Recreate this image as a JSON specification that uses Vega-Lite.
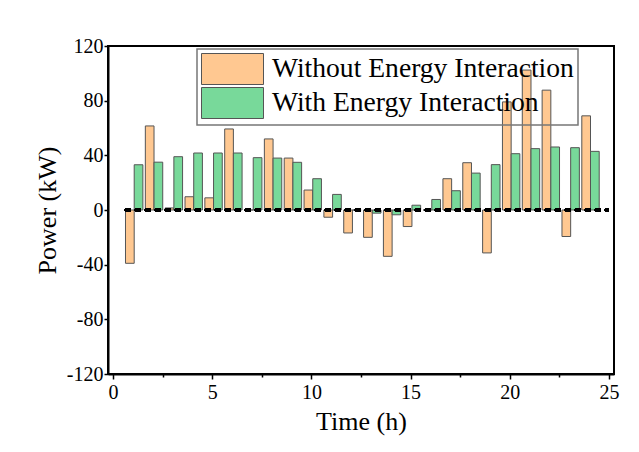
{
  "$schema": "https://vega.github.io/schema/vega-lite/v6.json",
  "width": 506,
  "height": 328,
  "autosize": "none",
  "padding": {"left": 108, "top": 46, "right": 25, "bottom": 78},
  "background": "white",
  "config": {
    "font": "Liberation Serif",
    "view": {"stroke": "black", "strokeWidth": 2},
    "axis": {
      "labelFont": "Liberation Serif",
      "titleFont": "Liberation Serif",
      "labelColor": "black",
      "titleColor": "black",
      "titleFontWeight": "normal",
      "domainColor": "black",
      "domainWidth": 2,
      "tickColor": "black",
      "tickWidth": 1.5,
      "grid": false
    },
    "legend": {
      "labelFont": "Liberation Serif"
    }
  },
  "data": {
    "values": [
      {"hour": 1, "series": "Without Energy Interaction", "power": -39},
      {"hour": 2, "series": "Without Energy Interaction", "power": 61.5},
      {"hour": 3, "series": "Without Energy Interaction", "power": 1.5},
      {"hour": 4, "series": "Without Energy Interaction", "power": 9.7},
      {"hour": 5, "series": "Without Energy Interaction", "power": 8.9},
      {"hour": 6, "series": "Without Energy Interaction", "power": 59.3},
      {"hour": 7, "series": "Without Energy Interaction", "power": 0},
      {"hour": 8, "series": "Without Energy Interaction", "power": 52},
      {"hour": 9, "series": "Without Energy Interaction", "power": 38},
      {"hour": 10, "series": "Without Energy Interaction", "power": 14.6},
      {"hour": 11, "series": "Without Energy Interaction", "power": -5.3},
      {"hour": 12, "series": "Without Energy Interaction", "power": -16.8},
      {"hour": 13, "series": "Without Energy Interaction", "power": -20},
      {"hour": 14, "series": "Without Energy Interaction", "power": -33.9},
      {"hour": 15, "series": "Without Energy Interaction", "power": -12.1},
      {"hour": 16, "series": "Without Energy Interaction", "power": 0},
      {"hour": 17, "series": "Without Energy Interaction", "power": 22.9},
      {"hour": 18, "series": "Without Energy Interaction", "power": 34.6},
      {"hour": 19, "series": "Without Energy Interaction", "power": -31.4},
      {"hour": 20, "series": "Without Energy Interaction", "power": 79.1},
      {"hour": 21, "series": "Without Energy Interaction", "power": 102.4},
      {"hour": 22, "series": "Without Energy Interaction", "power": 87.7},
      {"hour": 23, "series": "Without Energy Interaction", "power": -19.4},
      {"hour": 24, "series": "Without Energy Interaction", "power": 68.9},
      {"hour": 1, "series": "With Energy Interaction", "power": 33.1},
      {"hour": 2, "series": "With Energy Interaction", "power": 35},
      {"hour": 3, "series": "With Energy Interaction", "power": 39},
      {"hour": 4, "series": "With Energy Interaction", "power": 41.7},
      {"hour": 5, "series": "With Energy Interaction", "power": 41.7},
      {"hour": 6, "series": "With Energy Interaction", "power": 41.7},
      {"hour": 7, "series": "With Energy Interaction", "power": 38.3},
      {"hour": 8, "series": "With Energy Interaction", "power": 38},
      {"hour": 9, "series": "With Energy Interaction", "power": 34.9},
      {"hour": 10, "series": "With Energy Interaction", "power": 22.9},
      {"hour": 11, "series": "With Energy Interaction", "power": 11.4},
      {"hour": 12, "series": "With Energy Interaction", "power": 0},
      {"hour": 13, "series": "With Energy Interaction", "power": -2.3},
      {"hour": 14, "series": "With Energy Interaction", "power": -3.5},
      {"hour": 15, "series": "With Energy Interaction", "power": 3.5},
      {"hour": 16, "series": "With Energy Interaction", "power": 7.7},
      {"hour": 17, "series": "With Energy Interaction", "power": 14.1},
      {"hour": 18, "series": "With Energy Interaction", "power": 27},
      {"hour": 19, "series": "With Energy Interaction", "power": 33.2},
      {"hour": 20, "series": "With Energy Interaction", "power": 41.2},
      {"hour": 21, "series": "With Energy Interaction", "power": 44.9},
      {"hour": 22, "series": "With Energy Interaction", "power": 46.1},
      {"hour": 23, "series": "With Energy Interaction", "power": 45.6},
      {"hour": 24, "series": "With Energy Interaction", "power": 42.9}
    ]
  },
  "resolve": {"axis": {"x": "independent"}},
  "layer": [
    {
      "transform": [{"filter": "datum.series === 'Without Energy Interaction'"}],
      "mark": {"type": "bar", "width": 8.7, "xOffset": -3, "stroke": "#555555", "strokeWidth": 1},
      "encoding": {
        "x": {
          "field": "hour", "type": "quantitative",
          "scale": {"domain": [0, 25], "nice": false, "zero": false},
          "axis": {
            "orient": "bottom",
            "values": [0, 5, 10, 15, 20, 25],
            "title": "Time (h)",
            "titleFontSize": 26,
            "titlePadding": 6,
            "labelFontSize": 20,
            "labelPadding": 3,
            "tickSize": 5,
            "format": "d",
            "labelFlush": false
          }
        },
        "y": {
          "field": "power", "type": "quantitative",
          "scale": {"domain": [-120, 120], "nice": false},
          "axis": {
            "values": [-120, -80, -40, 0, 40, 80, 120],
            "labelExpr": "replace(datum.label, '\u2212', '-')",
            "title": "Power (kW)",
            "titleFontSize": 26,
            "titlePadding": 6,
            "labelFontSize": 20,
            "labelPadding": 1,
            "tickSize": 4
          }
        },
        "color": {
          "field": "series", "type": "nominal",
          "scale": {
            "domain": ["Without Energy Interaction", "With Energy Interaction"],
            "range": ["#FFC891", "#78D99A"]
          },
          "legend": {
            "title": null,
            "orient": "none",
            "legendX": 89,
            "legendY": 3,
            "padding": 4,
            "strokeColor": "#777777",
            "symbolType": "M-1,-1H3V1H-1Z",
            "symbolSize": 961,
            "symbolStrokeColor": "#555555",
            "symbolStrokeWidth": 1,
            "symbolOpacity": 1,
            "labelFontSize": 27.6,
            "labelOffset": 39,
            "labelColor": "black",
            "rowPadding": -2,
            "labelLimit": 400,
            "encode": {"legend": {"update": {"strokeWidth": {"value": 1.5}}}}
          }
        }
      }
    },
    {
      "transform": [{"filter": "datum.series === 'With Energy Interaction'"}],
      "mark": {"type": "bar", "width": 8.7, "xOffset": 5.7, "stroke": "#555555", "strokeWidth": 1},
      "encoding": {
        "x": {"field": "hour", "type": "quantitative", "axis": null},
        "y": {"field": "power", "type": "quantitative"},
        "color": {"field": "series", "type": "nominal"}
      }
    },
    {
      "mark": {"type": "rule", "color": "black", "strokeWidth": 2.5, "strokeDash": [6, 4]},
      "encoding": {
        "x": {
          "datum": 0.6, "type": "quantitative",
          "axis": {
            "orient": "bottom",
            "values": [2.5, 7.5, 12.5, 17.5, 22.5],
            "labels": false,
            "domain": false,
            "title": null,
            "tickSize": 3
          }
        },
        "x2": {"datum": 25},
        "y": {"datum": 0, "type": "quantitative"}
      }
    }
  ]
}
